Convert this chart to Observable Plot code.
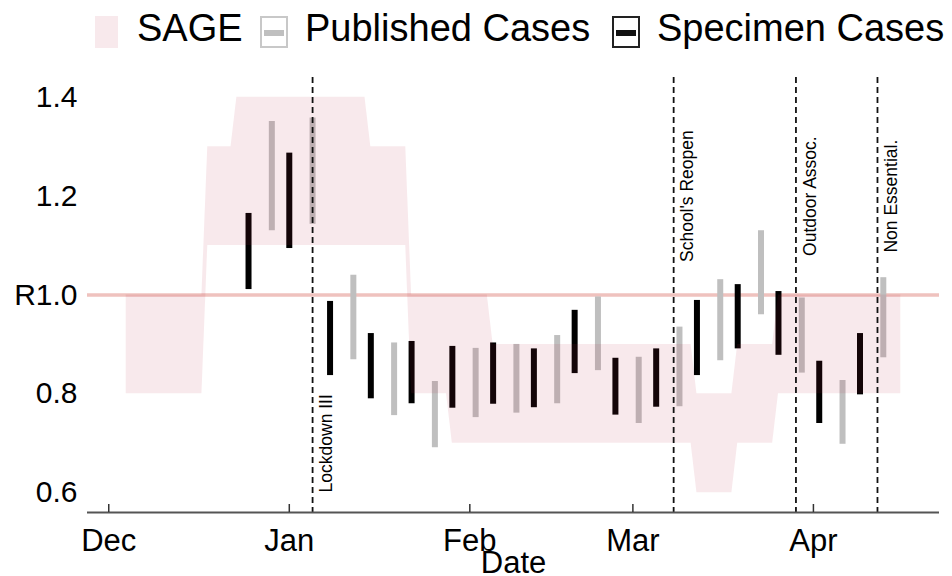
<!DOCTYPE html>
<html>
<head>
<meta charset="utf-8">
<script src="https://cdn.jsdelivr.net/npm/d3@7"></script>
<script src="https://cdn.jsdelivr.net/npm/@observablehq/plot@0.6"></script>
<style>
  html, body { margin: 0; padding: 0; background: #fff; }
  body { width: 952px; height: 576px; overflow: hidden; font-family: "Liberation Sans", Arial, sans-serif; }
  #legend { position: relative; width: 952px; height: 56px; }
  #legend .sw { position: absolute; top: 16px; height: 32px; box-sizing: border-box; }
  #legend .lbl { position: absolute; top: 0px; font-size: 38px; line-height: 56px; color: #000; white-space: nowrap; }
  #legend .bar { position: absolute; left: 2px; right: 2px; top: 12px; height: 6px; }
</style>
</head>
<body>
<div id="legend">
  <div class="sw" style="left:95px;width:23px;background:rgb(248,233,236);"></div>
  <div class="lbl" style="left:137px;">SAGE</div>
  <div class="sw" style="left:260px;width:28px;border:2px solid #c8c8c8;background:#fff;"><div class="bar" style="background:#bfbfbf;"></div></div>
  <div class="lbl" style="left:305px;">Published Cases</div>
  <div class="sw" style="left:612px;width:28px;border:2px solid #222;background:#fff;"><div class="bar" style="background:#111;"></div></div>
  <div class="lbl" style="left:657px;">Specimen Cases</div>
</div>
<div id="chart"></div>
<script>
// ---- Data ----
const specimenDates = ["2020-12-25","2021-01-01","2021-01-08","2021-01-15","2021-01-22","2021-01-29","2021-02-05","2021-02-12","2021-02-19","2021-02-26","2021-03-05","2021-03-12","2021-03-19","2021-03-26","2021-04-02","2021-04-09"];
const specimenLo = [1.011,1.094,0.837,0.790,0.780,0.771,0.779,0.772,0.841,0.757,0.773,0.837,0.891,0.878,0.740,0.798];
const specimenHi = [1.165,1.287,0.987,0.922,0.906,0.896,0.903,0.891,0.969,0.872,0.891,0.989,1.021,1.007,0.866,0.922];

const publishedDates = ["2020-12-29","2021-01-05","2021-01-12","2021-01-19","2021-01-26","2021-02-02","2021-02-09","2021-02-16","2021-02-23","2021-03-02","2021-03-09","2021-03-16","2021-03-23","2021-03-30","2021-04-06","2021-04-13"];
const publishedLo = [1.130,1.143,0.869,0.756,0.691,0.752,0.761,0.780,0.847,0.740,0.774,0.867,0.960,0.842,0.698,0.873];
const publishedHi = [1.351,1.358,1.040,0.903,0.825,0.892,0.900,0.918,0.996,0.874,0.935,1.031,1.130,0.994,0.827,1.035];

const sageStart = ["2020-12-04","2020-12-18","2020-12-23","2021-01-15","2021-01-22","2021-01-29","2021-02-05","2021-03-12","2021-03-19","2021-03-26"];
const sageEnd   = ["2020-12-17","2020-12-22","2021-01-14","2021-01-21","2021-01-28","2021-02-04","2021-03-11","2021-03-18","2021-03-25","2021-04-16"];
const sageLo = [0.8,1.1,1.1,1.1,0.8,0.7,0.7,0.6,0.7,0.8];
const sageHi = [1.0,1.3,1.4,1.3,1.0,1.0,0.9,0.8,0.9,1.0];

const eventDates = ["2021-01-05","2021-03-08","2021-03-29","2021-04-12"];
const eventNames = ["Lockdown III","School's Reopen","Outdoor Assoc.","Non Essential."];
const eventLabelY = [0.7,1.2,1.2,1.2];

const monthTicks = ["2020-12-01","2021-01-01","2021-02-01","2021-03-01","2021-04-01"];
const yTicks = [0.6,0.8,1.0,1.2,1.4];
const yTickLabels = ["0.6","0.8","R1.0","1.2","1.4"];
const refR = 1.0;

// ---- Tables ----
const P = (s) => new Date(s + "T00:00:00Z");
const specimen = specimenDates.map((d,i) => ({date: P(d), lo: specimenLo[i], hi: specimenHi[i]}));
const published = publishedDates.map((d,i) => ({date: P(d), lo: publishedLo[i], hi: publishedHi[i]}));
const sage = sageStart.flatMap((d,i) => [
  {date: P(d), lo: sageLo[i], hi: sageHi[i]},
  {date: P(sageEnd[i]), lo: sageLo[i], hi: sageHi[i]}
]);
const events = eventDates.map((d,i) => ({date: P(d), name: eventNames[i], y: eventLabelY[i]}));
const ticks = monthTicks.map(P);

const x0 = P(sageStart[0]).getTime(), x1 = P(sageEnd[sageEnd.length-1]).getTime();
const pad = (x1 - x0) * 0.05;
const xDomain = [new Date(x0 - pad), new Date(x1 + pad)];
const yDomain = [0.56, 1.44];

const chart = Plot.plot({
  width: 952,
  height: 520,
  marginLeft: 87,
  marginRight: 13,
  marginTop: 21,
  marginBottom: 64,
  style: {fontFamily: '"Liberation Sans", Arial, sans-serif', color: "#000", background: "#fff"},
  x: {type: "utc", domain: xDomain},
  y: {domain: yDomain},
  marks: [
    Plot.ruleY([refR], {stroke: "#efc2be", strokeWidth: 3.5}),
    Plot.ruleX(published, {x: "date", y1: "lo", y2: "hi", stroke: "#bfbfbf", strokeWidth: 6}),
    Plot.ruleX(specimen, {x: "date", y1: "lo", y2: "hi", stroke: "#000", strokeWidth: 6}),
    Plot.areaY(sage, {x: "date", y1: "lo", y2: "hi", fill: "rgb(185,35,65)", fillOpacity: 0.1, curve: "linear"}),
    Plot.ruleX(events, {x: "date", stroke: "#111", strokeWidth: 1.8, strokeDasharray: "6,4"}),
    Plot.text(events, {x: "date", y: "y", text: "name", rotate: -90, dx: 14, fontSize: 17.5, fill: "#000"}),
    Plot.ruleY([yDomain[0]], {stroke: "#555", strokeWidth: 2}),
    Plot.ruleX(ticks, {x: d => d, y1: yDomain[0], y2: yDomain[0], insetTop: -8, stroke: "#333", strokeWidth: 1.5}),
    Plot.axisX({ticks: ticks, tickFormat: d3.utcFormat("%b"), tickSize: 0, tickPadding: 16, fontSize: 31, label: null}),
    Plot.axisY({ticks: yTicks, tickFormat: (d) => yTickLabels[yTicks.indexOf(d)], tickSize: 0, tickPadding: 10, fontSize: 30, label: null}),
    Plot.text(["Date"], {frameAnchor: "bottom", lineAnchor: "top", dy: 38, fontSize: 31, fill: "#000"})
  ]
});
document.getElementById("chart").appendChild(chart);
</script>
</body>
</html>
